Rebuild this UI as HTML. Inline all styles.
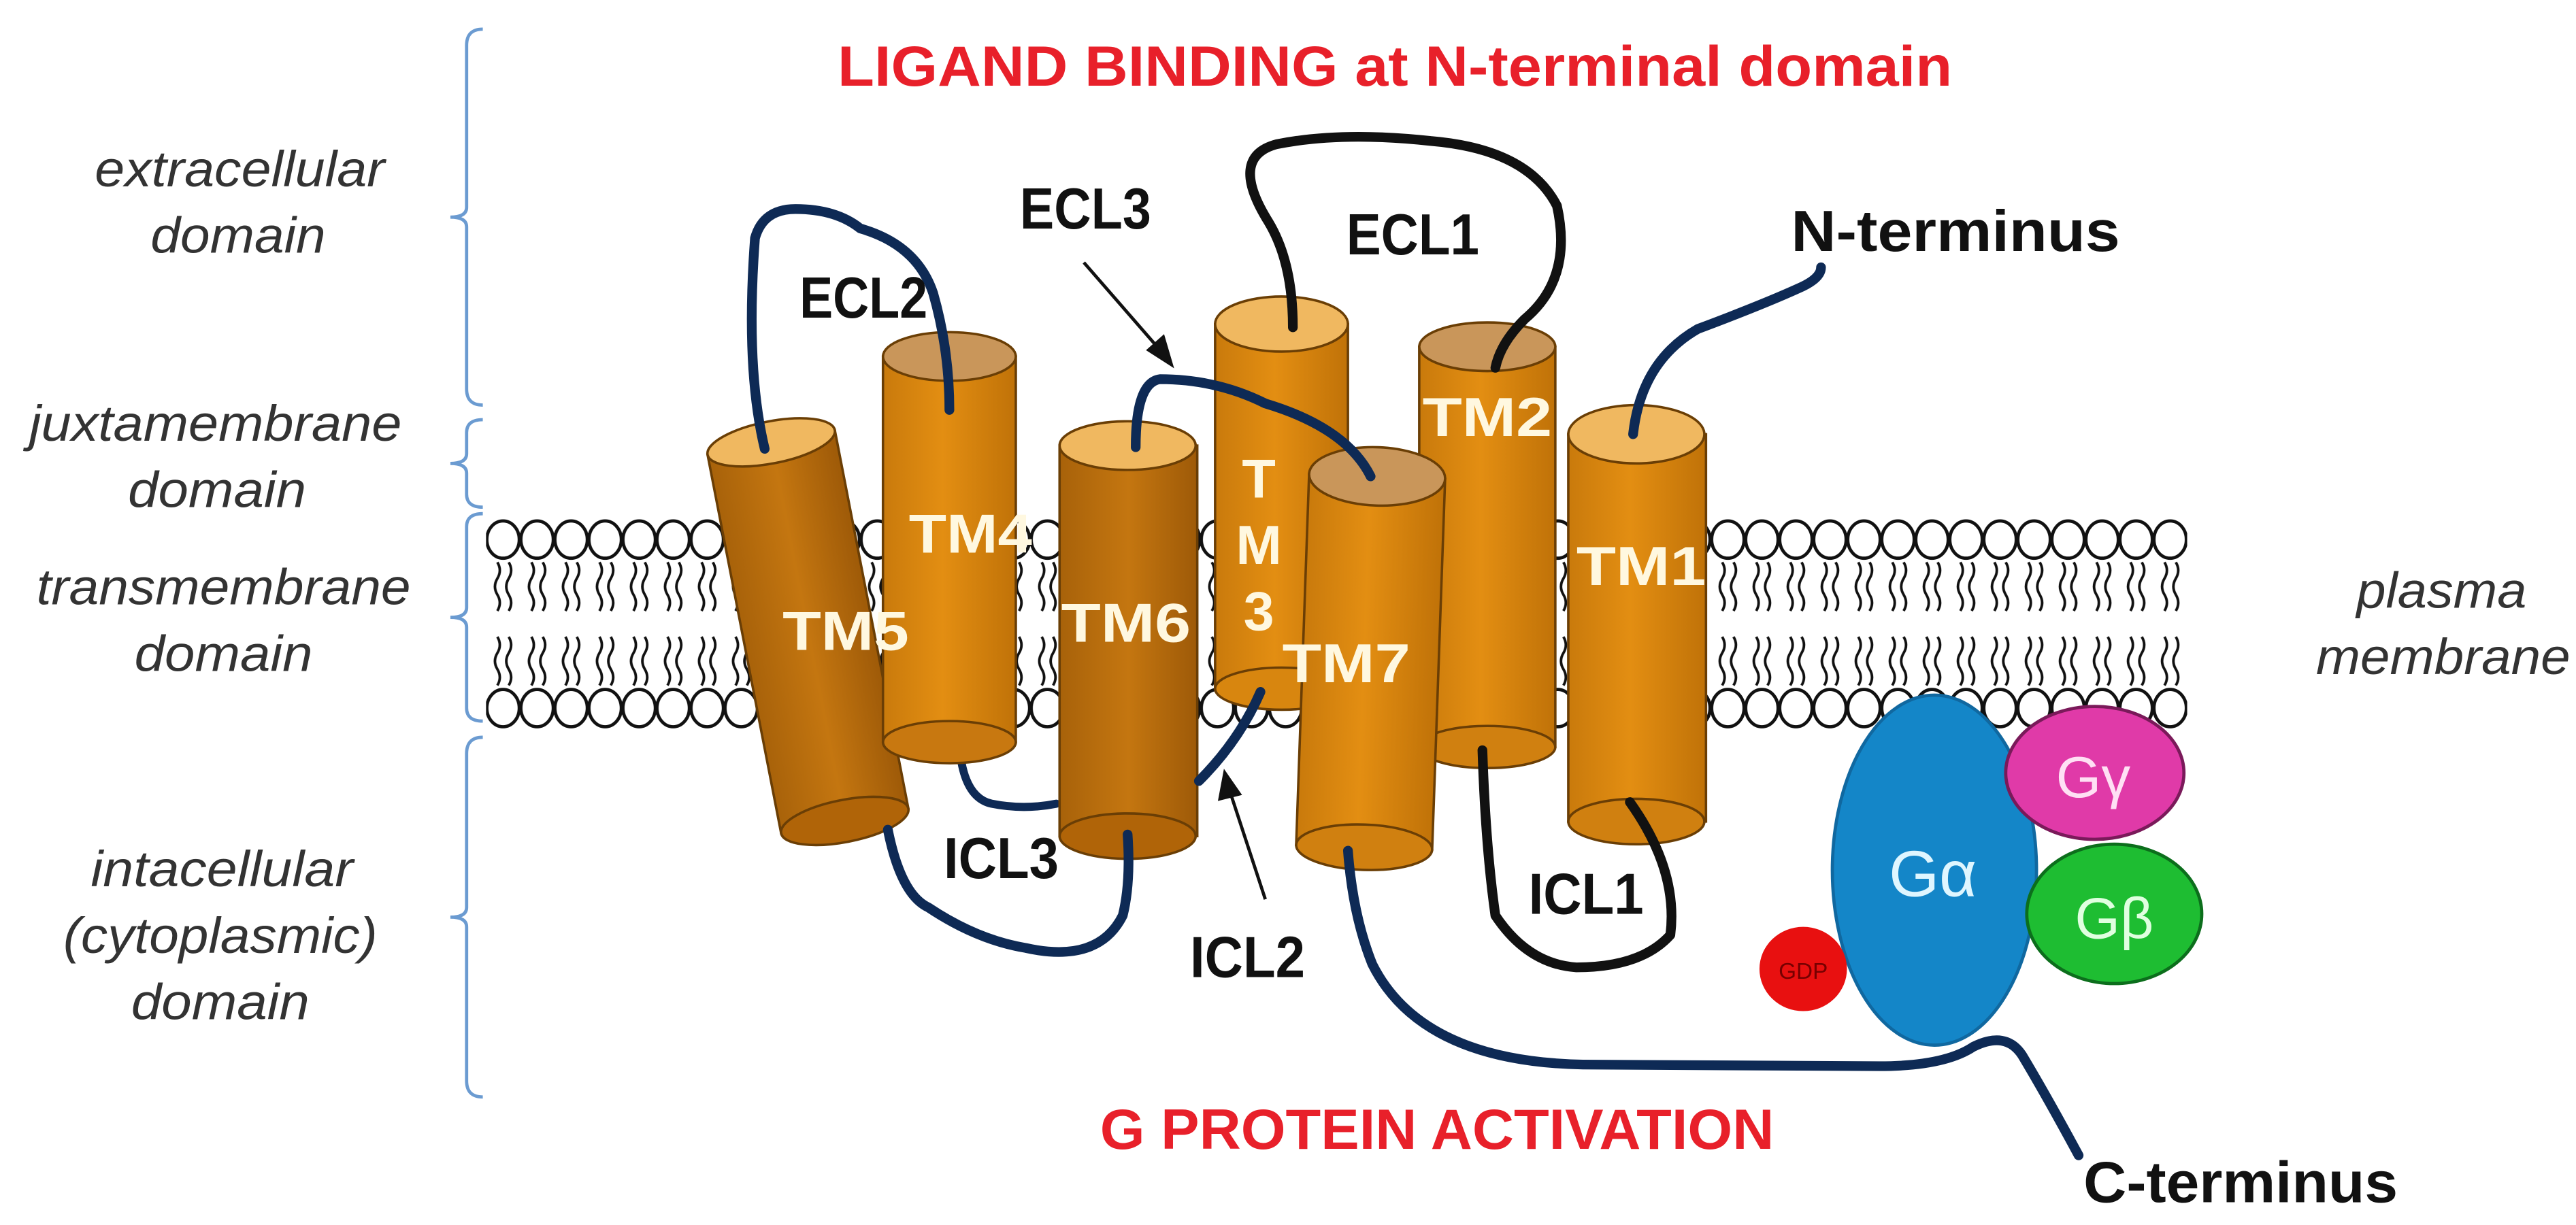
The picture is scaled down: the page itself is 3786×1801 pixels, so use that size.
<!DOCTYPE html>
<html><head><meta charset="utf-8"><style>
html,body{margin:0;padding:0;background:#fff}
svg{display:block}
text{font-family:"Liberation Sans",sans-serif}
.it{font-style:italic;fill:#333;font-size:31px}
.lb{font-weight:bold;fill:#111;font-size:36px}
.tm{font-weight:bold;fill:#fff8e0;font-size:34px}
</style></head><body>
<svg width="3786" height="1801" viewBox="0 0 1590 756" preserveAspectRatio="none" xmlns="http://www.w3.org/2000/svg">
<defs>
<pattern id="heads" x="300" y="0" width="21" height="756" patternUnits="userSpaceOnUse">
<ellipse cx="10.5" cy="333" rx="10" ry="11.5" fill="#fff" stroke="#111" stroke-width="2"/>
<ellipse cx="10.5" cy="437" rx="10" ry="11.5" fill="#fff" stroke="#111" stroke-width="2"/>
<path d="M7 347 q3 5 0 10 q-3 5 0 10 q3 5 0 10 M14 347 q3 5 0 10 q-3 5 0 10 q3 5 0 10 M7 393 q3 5 0 10 q-3 5 0 10 q3 5 0 10 M14 393 q3 5 0 10 q-3 5 0 10 q3 5 0 10" fill="none" stroke="#111" stroke-width="1.6"/>
</pattern>
<linearGradient id="cyl" x1="0" x2="1" y1="0" y2="0">
<stop offset="0" stop-color="#c97a0c"/><stop offset="0.45" stop-color="#e38e12"/><stop offset="1" stop-color="#c07208"/>
</linearGradient>
<linearGradient id="cyld" x1="0" x2="1" y1="0" y2="0">
<stop offset="0" stop-color="#a8620a"/><stop offset="0.5" stop-color="#c47610"/><stop offset="1" stop-color="#9e5a08"/>
</linearGradient>
</defs>

<text x="861" y="53" text-anchor="middle" font-size="35" font-weight="bold" fill="#e8202a" textLength="688" lengthAdjust="spacingAndGlyphs">LIGAND BINDING at N-terminal domain</text>

<g fill="none" stroke="#6b9bd1" stroke-width="2">
<path d="M298 18 q-10 0 -10 10 v100 q0 6 -10 6 q10 0 10 6 v100 q0 10 10 10"/>
<path d="M298 259 q-10 0 -10 8 v13 q0 6 -10 6 q10 0 10 6 v13 q0 8 10 8"/>
<path d="M298 317 q-10 0 -10 8 v50 q0 6 -10 6 q10 0 10 6 v50 q0 8 10 8"/>
<path d="M298 455 q-10 0 -10 10 v95 q0 6 -10 6 q10 0 10 6 v95 q0 10 10 10"/>
</g>
<text class="it" x="148" y="115" text-anchor="middle" textLength="179" lengthAdjust="spacingAndGlyphs">extracellular</text>
<text class="it" x="147" y="156" text-anchor="middle" textLength="108" lengthAdjust="spacingAndGlyphs">domain</text>
<text class="it" x="133" y="272" text-anchor="middle" textLength="230" lengthAdjust="spacingAndGlyphs">juxtamembrane</text>
<text class="it" x="134" y="313" text-anchor="middle" textLength="110" lengthAdjust="spacingAndGlyphs">domain</text>
<text class="it" x="138" y="373" text-anchor="middle" textLength="231" lengthAdjust="spacingAndGlyphs">transmembrane</text>
<text class="it" x="138" y="414" text-anchor="middle" textLength="110" lengthAdjust="spacingAndGlyphs">domain</text>
<text class="it" x="137" y="547" text-anchor="middle" textLength="162" lengthAdjust="spacingAndGlyphs">intacellular</text>
<text class="it" x="136" y="588" text-anchor="middle" textLength="194" lengthAdjust="spacingAndGlyphs">(cytoplasmic)</text>
<text class="it" x="136" y="629" text-anchor="middle" textLength="110" lengthAdjust="spacingAndGlyphs">domain</text>
<text class="it" x="1507" y="375" text-anchor="middle" textLength="105" lengthAdjust="spacingAndGlyphs">plasma</text>
<text class="it" x="1508" y="416" text-anchor="middle" textLength="157" lengthAdjust="spacingAndGlyphs">membrane</text>

<rect x="300" y="320" width="1050" height="130" fill="url(#heads)"/>

<g fill="none" stroke-width="5" stroke-linecap="round">
<path d="M592 458 q2 34 20 38 q20 4 40 0" stroke="#0e2a55"/>
</g>

<g stroke="#6a3e05" stroke-width="1.5">
<g transform="rotate(-11 476 273)">
<rect x="436" y="273" width="80" height="238" fill="url(#cyld)"/>
<ellipse cx="476" cy="511" rx="40" ry="13" fill="#b06408"/>
<ellipse cx="476" cy="273" rx="40" ry="13" fill="#f0b860"/>
</g>
<rect x="545" y="220" width="82" height="238" fill="url(#cyl)"/>
<ellipse cx="586" cy="458" rx="41" ry="13" fill="#c87810"/>
<ellipse cx="586" cy="220" rx="41" ry="15" fill="#c9965a"/>
<rect x="654" y="275" width="85" height="241" fill="url(#cyld)"/>
<ellipse cx="696" cy="516" rx="42" ry="14" fill="#b06408"/>
<ellipse cx="696" cy="275" rx="42" ry="15" fill="#f0b860"/>
<rect x="750" y="200" width="82" height="225" fill="url(#cyl)"/>
<ellipse cx="791" cy="425" rx="41" ry="13" fill="#d8860f"/>
<ellipse cx="791" cy="200" rx="41" ry="17" fill="#f0b860"/>
<rect x="876" y="214" width="84" height="247" fill="url(#cyl)"/>
<ellipse cx="918" cy="461" rx="42" ry="13" fill="#d08010"/>
<ellipse cx="918" cy="214" rx="42" ry="15" fill="#c9965a"/>
<g transform="rotate(2 850 294)">
<rect x="808" y="294" width="84" height="229" fill="url(#cyl)"/>
<ellipse cx="850" cy="523" rx="42" ry="14" fill="#d08010"/>
<ellipse cx="850" cy="294" rx="42" ry="18" fill="#c9965a"/>
</g>
<rect x="968" y="268" width="85" height="239" fill="url(#cyl)"/>
<ellipse cx="1010" cy="507" rx="42" ry="14" fill="#d08010"/>
<ellipse cx="1010" cy="268" rx="42" ry="18" fill="#f0b860"/>
</g>

<text class="tm" x="599" y="341" text-anchor="middle" textLength="76" lengthAdjust="spacingAndGlyphs">TM4</text>
<text class="tm" x="522" y="401" text-anchor="middle" textLength="78" lengthAdjust="spacingAndGlyphs">TM5</text>
<text class="tm" x="695" y="396" text-anchor="middle" textLength="80" lengthAdjust="spacingAndGlyphs">TM6</text>
<text class="tm" x="777" y="307" text-anchor="middle">T</text>
<text class="tm" x="777" y="348" text-anchor="middle">M</text>
<text class="tm" x="777" y="389" text-anchor="middle">3</text>
<text class="tm" x="831" y="421" text-anchor="middle" textLength="79" lengthAdjust="spacingAndGlyphs">TM7</text>
<text class="tm" x="918" y="269" text-anchor="middle" textLength="80" lengthAdjust="spacingAndGlyphs">TM2</text>
<text class="tm" x="1013" y="361" text-anchor="middle" textLength="80" lengthAdjust="spacingAndGlyphs">TM1</text>

<g fill="none" stroke-width="6" stroke-linecap="round" stroke-linejoin="round">
<path d="M472 277 q-12 -50 -6 -130 q5 -18 25 -18 q25 0 40 12 q35 10 45 40 q10 35 10 72" stroke="#0e2a55"/>
<path d="M798 202 q0 -40 -15 -65 q-25 -40 5 -48 q40 -8 95 -2 q60 5 78 40 q10 45 -20 70 q-15 15 -18 30" stroke="#111"/>
<path d="M701 276 q0 -40 15 -42 q35 0 65 15 q50 15 65 45" stroke="#0e2a55"/>
<path d="M1008 268 q5 -45 40 -65 q40 -15 62 -25 q14 -6 14 -13" stroke="#0e2a55"/>
<path d="M548 512 q8 40 25 48 q30 20 60 25 q45 10 60 -20 q5 -20 3 -50" stroke="#0e2a55"/>
<path d="M915 463 q2 60 8 102 q20 30 50 32 q40 0 58 -20 q5 -40 -25 -82" stroke="#111"/>
<path d="M832 525 q3 40 15 70 q30 60 130 62 L1160 658 q40 0 58 -12 q20 -10 30 5 q15 25 35 62" stroke="#0e2a55"/>
<path d="M740 482 q25 -25 38 -55" stroke="#0e2a55"/>
</g>

<g stroke="#111" stroke-width="2" fill="#111">
<line x1="669" y1="162" x2="716" y2="216"/>
<polygon points="723,225 709,216 718,208"/>
<line x1="781" y1="555" x2="759" y2="488"/>
<polygon points="756,477 753,493 765,490"/>
</g>

<text class="lb" x="670" y="141" text-anchor="middle" textLength="81" lengthAdjust="spacingAndGlyphs">ECL3</text>
<text class="lb" x="533" y="196" text-anchor="middle" textLength="79" lengthAdjust="spacingAndGlyphs">ECL2</text>
<text class="lb" x="872" y="157" text-anchor="middle" textLength="82" lengthAdjust="spacingAndGlyphs">ECL1</text>
<text class="lb" x="1207" y="155" text-anchor="middle" textLength="203" lengthAdjust="spacingAndGlyphs">N-terminus</text>
<text class="lb" x="618" y="542" text-anchor="middle" textLength="71" lengthAdjust="spacingAndGlyphs">ICL3</text>
<text class="lb" x="770" y="603" text-anchor="middle" textLength="71" lengthAdjust="spacingAndGlyphs">ICL2</text>
<text class="lb" x="979" y="564" text-anchor="middle" textLength="71" lengthAdjust="spacingAndGlyphs">ICL1</text>

<ellipse cx="1194" cy="537" rx="63" ry="108" fill="#1486c8" stroke="#1068a0" stroke-width="2"/>
<ellipse cx="1293" cy="477" rx="55" ry="41" fill="#e03aa8" stroke="#7a1a5a" stroke-width="2"/>
<ellipse cx="1305" cy="564" rx="54" ry="43" fill="#1ebd32" stroke="#0c6e1c" stroke-width="2"/>
<ellipse cx="1113" cy="598" rx="27" ry="26" fill="#e81010"/>
<text x="1113" y="604" text-anchor="middle" font-size="14" fill="#700">GDP</text>
<text x="1193" y="553" text-anchor="middle" font-size="40" fill="#dff6ff">Gα</text>
<text x="1292" y="492" text-anchor="middle" font-size="36" fill="#ffe0f4">Gγ</text>
<text x="1305" y="579" text-anchor="middle" font-size="36" fill="#e0ffe0">Gβ</text>

<text x="887" y="709" text-anchor="middle" font-size="35" font-weight="bold" fill="#e8202a" textLength="416" lengthAdjust="spacingAndGlyphs">G PROTEIN ACTIVATION</text>
<text class="lb" x="1383" y="742" text-anchor="middle" textLength="194" lengthAdjust="spacingAndGlyphs">C-terminus</text>
</svg>
</body></html>
